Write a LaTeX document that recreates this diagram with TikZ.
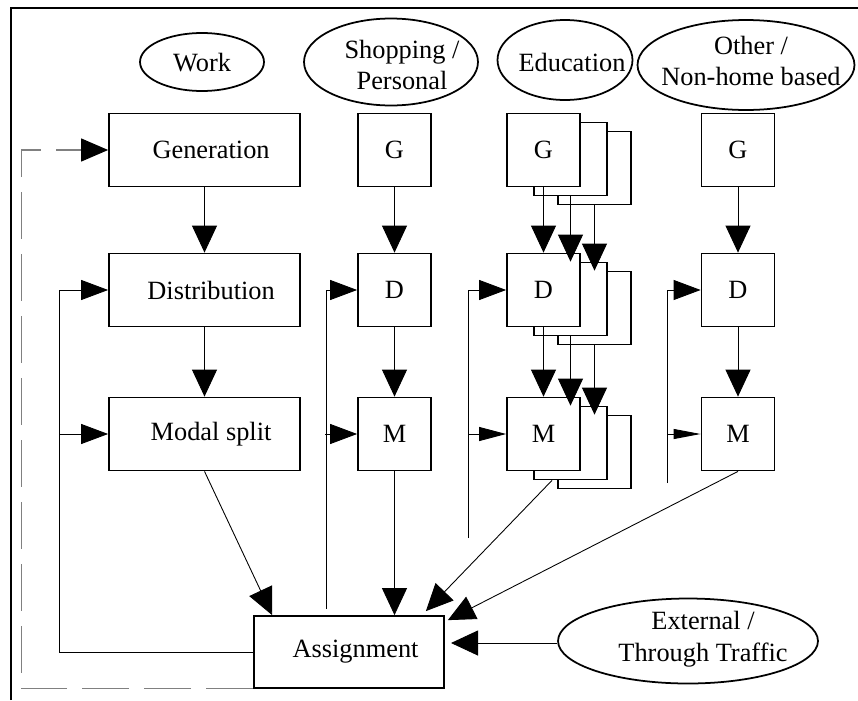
\documentclass[tikz,border=0pt]{standalone}
\usepackage{fontspec}
\setmainfont{Liberation Serif}
\usetikzlibrary{arrows.meta, shapes.geometric}

\begin{document}
\begin{tikzpicture}[x=0.02cm, y=-0.02cm,
		every node/.style={font=\fontsize{15}{18}\selectfont},
		stage/.style={draw, line width=1pt, fill=white, minimum width=3.82cm, minimum height=1.46cm, inner sep=0pt},
		sub/.style={draw, line width=1pt, fill=white, minimum width=1.46cm, minimum height=1.46cm, inner sep=0pt},
		purpose/.style={draw, ellipse, line width=1pt, inner sep=0pt},
		flow/.style={line width=0.5pt, -{Triangle[length=0.54cm, width=0.5cm]}},
		fb/.style={line width=0.5pt, -{Triangle[length=0.54cm, width=0.4cm]}},
		fb narrow/.style={line width=0.5pt, -{Triangle[length=0.54cm, width=0.28cm]}},
		fb thin/.style={line width=0.5pt, -{Triangle[length=0.54cm, width=0.2cm]}},
		loop back/.style={line width=0.6pt, gray, dash pattern=on 0.94cm off 0.3cm,
			-{Triangle[length=0.54cm, width=0.46cm, color=black]}}]
		\useasboundingbox (0,0) rectangle (858,700);
		\draw[line width=1.7pt] (11,700) -- (11,8) -- (858,8);
		
		% trip purposes
		\node[purpose, minimum width=2.48cm, minimum height=1.16cm] (work) at (202,62) {};
		\node (work txt) at (202,63) {Work};
		\node[purpose, minimum width=3.48cm, minimum height=1.74cm] (shop) at (391,62) {};
		\node[align=center] (shop txt) at (402,65) {Shopping /\\Personal};
		\node[purpose, minimum width=2.7cm, minimum height=1.6cm] (edu) at (565,60) {};
		\node (edu txt) at (572,62) {Education};
		\node[purpose, minimum width=4.34cm, minimum height=1.8cm] (other) at (746,65) {};
		\node[align=center] (other txt) at (751,61) {Other /\\Non-home based};
		\node[purpose, minimum width=5.2cm, minimum height=1.7cm] (ext) at (688,641) {};
		\node[align=center] (ext txt) at (703,639) {External /\\Through Traffic};
		
		% work column
		\node[stage] (gen) at (204.5,150) {~~Generation};
		\node[stage] (dist) at (204.5,290) {~~Distribution};
		\node[stage] (modal) at (204.5,434) {~~Modal split};
		\node[stage, minimum width=3.8cm, minimum height=1.44cm] (assign) at (349,652) {~~Assignment};
		
		% shopping and other columns
		\node[sub] (sg) at (394.5,150) {G};
		\node[sub] (sd) at (394.5,290) {D};
		\node[sub] (sm) at (394.5,434) {M};
		\node[sub] (og) at (738,150) {G};
		\node[sub] (od) at (738,290) {D};
		\node[sub] (om) at (738,434) {M};
		
		% education column, stacked
		\foreach \y/\n/\t in {150/eg/G, 290/ed/D, 434/em/M}{
			\node[sub] (\n2) at (594.5,\y+18) {};
			\node[sub] (\n1) at (570.5,\y+9) {};
			\node[sub] (\n) at (543.5,\y) {\t};
		}
		
		\draw[flow] (gen) -- (dist);
		\draw[flow] (dist) -- (modal);
		\draw[flow] (modal.south) -- ([xshift=0.38cm]assign.north west);
		
		\draw[flow] (sg) -- (sd);
		\draw[flow] (sd) -- (sm);
		\draw[flow] (sm.south) -- (sm.south |- assign.north);
		
		\draw[flow] (eg) -- (ed);
		\draw[flow] (eg1) -- (ed1);
		\draw[flow] (eg2) -- (ed2);
		\draw[flow] (ed) -- (em);
		\draw[flow] (ed1) -- (em1);
		\draw[flow] (ed2) -- (em2);
		\draw[flow] ([xshift=-0.37cm]em1.south) -- ([xshift=-0.38cm, yshift=0.08cm]assign.north east);
		
		\draw[flow] (og) -- (od);
		\draw[flow] (od) -- (om);
		\draw[flow] (om.south) -- ([xshift=0.06cm, yshift=-0.1cm]assign.north east);
		
		\coordinate (extin) at (451,643);
		\draw[flow] (ext.west |- extin) -- (extin);
		
		% feedback
		\draw[loop back] (assign.south west) -| ([xshift=-1.74cm]gen.west) -- (gen.west);
		\draw[fb] (assign.west) -| ([xshift=-0.98cm]dist.west) -- (dist.west);
		\draw[fb] ([xshift=-0.98cm]modal.west) -- (modal.west);
		\draw[fb] ([xshift=-0.46cm, yshift=0.12cm]assign.north) |- (sd.west);
		\draw[fb] ([xshift=-0.64cm]sm.west) -- (sm.west);
		\coordinate (edfb) at (468,538);
		\draw[fb] (edfb) |- (ed.west);
		\draw[fb narrow] (em.west -| edfb) -- (em.west);
		\coordinate (ofb) at (667,483);
		\draw[fb] (ofb) |- (od.west);
		\draw[fb thin] (om.west -| ofb) -- (om.west);
	\end{tikzpicture}
\end{document}
